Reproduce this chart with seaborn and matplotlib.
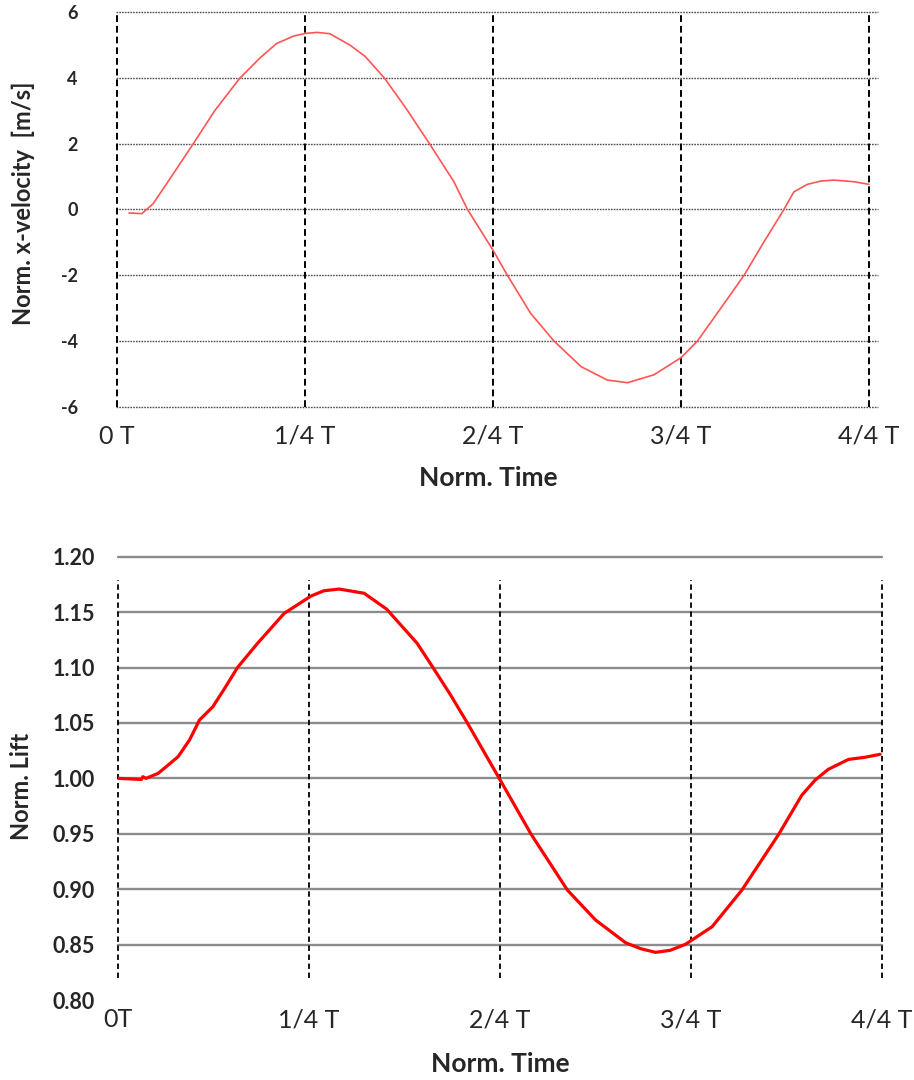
import matplotlib
matplotlib.use("Agg")
import matplotlib.pyplot as plt
import seaborn as sns
import numpy as np
import pandas as pd

# ---- data ----
t_vel = [0.016, 0.033, 0.048, 0.066, 0.101, 0.13, 0.163, 0.19, 0.212, 0.235,
         0.251, 0.266, 0.283, 0.31, 0.33, 0.356, 0.385, 0.416, 0.448, 0.466,
         0.5, 0.519, 0.55, 0.581, 0.617, 0.652, 0.679, 0.714, 0.75, 0.772,
         0.80, 0.834, 0.86, 0.887, 0.9, 0.918, 0.936, 0.953, 0.98, 1.0]
x_vel = [-0.11, -0.13, 0.17, 0.78, 1.98, 3.0, 3.98, 4.6, 5.04, 5.27,
         5.35, 5.38, 5.34, 4.99, 4.65, 3.98, 3.05, 1.98, 0.84, 0.0,
         -1.24, -2.0, -3.16, -4.0, -4.78, -5.19, -5.27, -5.03, -4.51, -4.0,
         -3.1, -2.0, -1.0, 0.0, 0.53, 0.76, 0.86, 0.89, 0.84, 0.76]

t_lift = [0.0, 0.031, 0.033, 0.037, 0.053, 0.079, 0.094, 0.107, 0.1245, 0.14,
          0.157, 0.183, 0.218, 0.253, 0.27, 0.29, 0.3226, 0.352, 0.392, 0.412,
          0.435, 0.458, 0.4994, 0.541, 0.5886, 0.6256, 0.665, 0.685, 0.704, 0.723,
          0.743, 0.778, 0.817, 0.865, 0.8955, 0.913, 0.930, 0.9565, 0.978, 0.998]
lift = [1.000, 0.999, 1.0015, 1.000, 1.0045, 1.0195, 1.0346, 1.0526, 1.0646, 1.0812,
        1.1002, 1.1218, 1.1489, 1.1645, 1.1693, 1.1708, 1.1670, 1.1527, 1.1218, 1.1007,
        1.0760, 1.0496, 1.000, 0.9497, 0.8992, 0.8721, 0.8516, 0.8462, 0.8430, 0.8448,
        0.8502, 0.8661, 0.8992, 0.9493, 0.9849, 0.9985, 1.0081, 1.0171, 1.0190, 1.0217]

quarters = [0.0, 0.25, 0.5, 0.75, 1.0]
top_xlabels = ["0 T", "1/4 T", "2/4 T", "3/4 T", "4/4 T"]
bot_xlabels = ["0T", "1/4 T", "2/4 T", "3/4 T", "4/4 T"]
vel_ticks = [-6, -4, -2, 0, 2, 4, 6]
lift_ticks = [0.80, 0.85, 0.90, 0.95, 1.00, 1.05, 1.10, 1.15, 1.20]

sns.set_style("white")
plt.rcParams['font.family'] = ['Lato', 'DejaVu Sans']

fig = plt.figure(figsize=(9.14, 10.8), dpi=100)
W, H = 914, 1080

def pos(l, r, t, b):
    return [l / W, 1 - b / H, (r - l) / W, (b - t) / H]

# ---------- top chart ----------
L1, R1, T1, B1 = 116, 878, 12, 406.7
ax1 = fig.add_axes(pos(L1, R1, T1, B1))
df1 = pd.DataFrame({"t": t_vel, "v": x_vel})
sns.lineplot(data=df1, x="t", y="v", ax=ax1, color="#FF5555", linewidth=1.2,
             estimator=None, sort=False, zorder=5)
ax1.set_xlim(-1 / 752, 761 / 752)
ax1.set_ylim(-6, 6)
ax1.set_yticks(vel_ticks)
ax1.set_yticklabels([str(v) for v in vel_ticks], fontweight="bold", fontsize=13)
ax1.set_xticks(quarters)
ax1.set_xticklabels(top_xlabels, fontsize=18)
for v in vel_ticks:
    ax1.axhline(v, color="#505050", linewidth=1.0, linestyle=(0, (1.2, 0.8)),
                clip_on=False, zorder=1)
ax1.vlines(quarters, -6, 6, colors="black", linewidth=1.4,
           linestyles=(0, (3.5, 2)), zorder=2, clip_on=False)
ax1.tick_params(axis="y", length=0, pad=27.5)
ax1.tick_params(axis="x", length=0, pad=13)
for s in ax1.spines.values():
    s.set_visible(False)
ax1.set_xlabel("Norm. Time", fontsize=19, fontweight="bold")
ax1.xaxis.label.set_va("center")
ax1.xaxis.set_label_coords(0.489, -(478 - B1) / (B1 - T1))
ax1.set_ylabel("Norm. x-velocity  [m/s]", fontsize=17, fontweight="bold")
ax1.yaxis.label.set_va("center")
ax1.yaxis.set_label_coords((23.5 - L1) / (R1 - L1), (B1 - 203.5) / (B1 - T1))

# ---------- bottom chart ----------
L2, R2, T2, B2 = 117.7, 881.7, 556.7, 1000
ax2 = fig.add_axes(pos(L2, R2, T2, B2))
df2 = pd.DataFrame({"t": t_lift, "lift": lift})
sns.lineplot(data=df2, x="t", y="lift", ax=ax2, color="#FF0000", linewidth=2.3,
             estimator=None, sort=False, zorder=5)
ax2.set_xlim(0, (R2 - L2) / 765.6)
ax2.set_ylim(0.80, 1.20)
ax2.set_yticks(lift_ticks)
ax2.set_yticklabels([f"{v:.2f}" for v in lift_ticks], fontweight="bold", fontsize=15.5)
ax2.set_xticks(quarters)
ax2.set_xticklabels(bot_xlabels, fontsize=18)
for v in lift_ticks[1:]:
    ax2.axhline(v, color="#8C8C8C", linewidth=1.7, clip_on=False, zorder=1)
ax2.vlines(quarters, 0.8194, 1.1794, colors="black", linewidth=1.3,
           linestyles=(0, (3, 2)), zorder=2, clip_on=False)
ax2.tick_params(axis="y", length=0, pad=16.5)
ax2.tick_params(axis="x", length=0, pad=6)
for s in ax2.spines.values():
    s.set_visible(False)
ax2.set_xlabel("Norm. Time", fontsize=19, fontweight="bold")
ax2.xaxis.label.set_va("center")
ax2.xaxis.set_label_coords((500 - L2) / (R2 - L2), -(1063.5 - B2) / (B2 - T2))
ax2.set_ylabel("Norm. Lift", fontsize=17, fontweight="bold")
ax2.yaxis.label.set_va("center")
ax2.yaxis.set_label_coords((22 - L2) / (R2 - L2), (B2 - 786.7) / (B2 - T2))

fig.savefig("out.png", dpi=100)
